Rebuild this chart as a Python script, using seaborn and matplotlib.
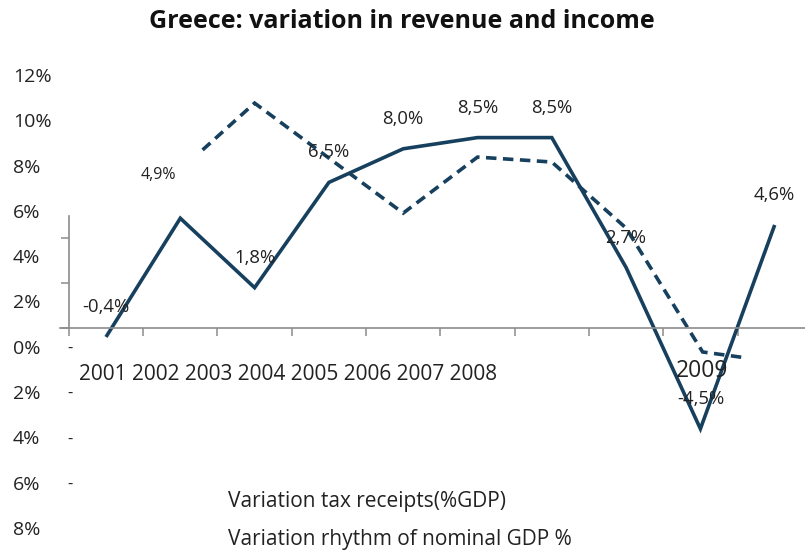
import matplotlib
matplotlib.use("Agg")
import matplotlib.pyplot as plt
import seaborn as sns
import pandas as pd

# ---------------- data ----------------
years_text = "2001 2002 2003 2004 2005 2006 2007 2008"
year_last = "2009"
tax_x = [0, 1, 2, 3, 4, 5, 6, 7, 8, 9]
tax_values = [-0.4, 4.9, 1.8, 6.5, 8.0, 8.5, 8.5, 2.7, -4.5, 4.6]
tax_labels = ["-0,4%", "4,9%", "1,8%", "6,5%", "8,0%", "8,5%", "8,5%", "2,7%", "-4,5%", "4,6%"]
gdp_x = [1.3, 2, 4, 5, 6, 7, 8.03, 8.63]
gdp_values = [7.95, 10.04, 5.13, 7.63, 7.41, 4.46, -1.07, -1.34]
y_labels = ["12%", "10%", "8%", "6%", "4%", "2%", "0%", "2%", "4%", "6%", "8%"]
y_dash_flags = [False, False, False, False, False, False, True, True, True, True, False]
legend_labels = ["Variation tax receipts(%GDP)", "Variation rhythm of nominal GDP %"]
title = "Greece: variation in revenue and income"

# ---------------- style ----------------
sns.set_theme(style="white")
plt.rcParams["font.family"] = ["Open Sans", "DejaVu Sans"]

W, H = 805, 557
fig = plt.figure(figsize=(W / 100, H / 100), dpi=100)
ax = fig.add_axes([0, 0, 1, 1])
ax.set_facecolor("white")

# pixel geometry of the data area
x0_px, dx_px = 106, 74.3
y0_px, dy_px = 328, 22.4
ax.set_xlim(-x0_px / dx_px, (W - x0_px) / dx_px)
ax.set_ylim((y0_px - H) / dy_px, y0_px / dy_px)

line_color = "#17405e"
tax_df = pd.DataFrame({"x": tax_x, "v": tax_values})
gdp_df = pd.DataFrame({"x": gdp_x, "v": gdp_values})
sns.lineplot(data=tax_df, x="x", y="v", ax=ax, color=line_color, lw=2.6,
             sort=False, estimator=None)
sns.lineplot(data=gdp_df, x="x", y="v", ax=ax, color=line_color, lw=2.6,
             sort=False, estimator=None, linestyle=(0, (2.9, 1.8)))
for ln in ax.lines:
    ln.set_solid_joinstyle("miter")
    ln.set_dash_joinstyle("miter")
    ln.set_solid_capstyle("butt")

# axes spines / ticks
spine_c = "#8c8c8c"
for s in ["top", "right"]:
    ax.spines[s].set_visible(False)
ax.spines["left"].set_position(("data", -0.5))
ax.spines["left"].set_bounds(0, 5)
ax.spines["bottom"].set_position(("data", 0))
ax.spines["bottom"].set_bounds(-0.62, (W - x0_px) / dx_px)
for s in ["left", "bottom"]:
    ax.spines[s].set_visible(True)
    ax.spines[s].set_color(spine_c)
    ax.spines[s].set_linewidth(1.2)
ax.set_yticks([0, 2, 4])
ax.set_xticks([i - 0.5 for i in range(10)])
ax.tick_params(axis="both", which="both", direction="out", length=5.8, width=1.1,
               color=spine_c, labelleft=False, labelbottom=False,
               left=True, bottom=True)
ax.set_xlabel("")
ax.set_ylabel("")

# data labels
txt_c = "#222222"
special = {1: ((-22, 43), 11.5)}
for x, v, lab in zip(tax_x, tax_values, tax_labels):
    off, fs = special.get(x, ((0, 30), 13.3))
    ax.annotate(lab, (x, v), xytext=off, textcoords="offset pixels",
                ha="center", va="center", fontsize=fs, color=txt_c)

def ftext(px, py, s, **kw):
    fig.text(px / W, 1 - py / H, s, **kw)

# stray y labels on the left
for k, (lab, dash) in enumerate(zip(y_labels, y_dash_flags)):
    py = 77 + 45.3 * k
    ftext(13, py, lab, ha="left", va="center", fontsize=14, color=txt_c)
    if dash:
        ftext(70, py, "-", ha="center", va="center", fontsize=12, color=txt_c)

# year labels
ftext(79, 375, years_text, ha="left", va="center", fontsize=15, color=txt_c)
ftext(702, 371, year_last, ha="center", va="center", fontsize=16.5, color=txt_c)

# legend-like texts
ftext(228, 501, legend_labels[0], ha="left", va="center", fontsize=15, color=txt_c)
ftext(228, 539, legend_labels[1], ha="left", va="center", fontsize=15, color=txt_c)

# title
ftext(402, 22, title, ha="center", va="center", fontsize=18, fontweight="bold",
      color="#111111")

fig.savefig("out.png", dpi=100, facecolor="white")
